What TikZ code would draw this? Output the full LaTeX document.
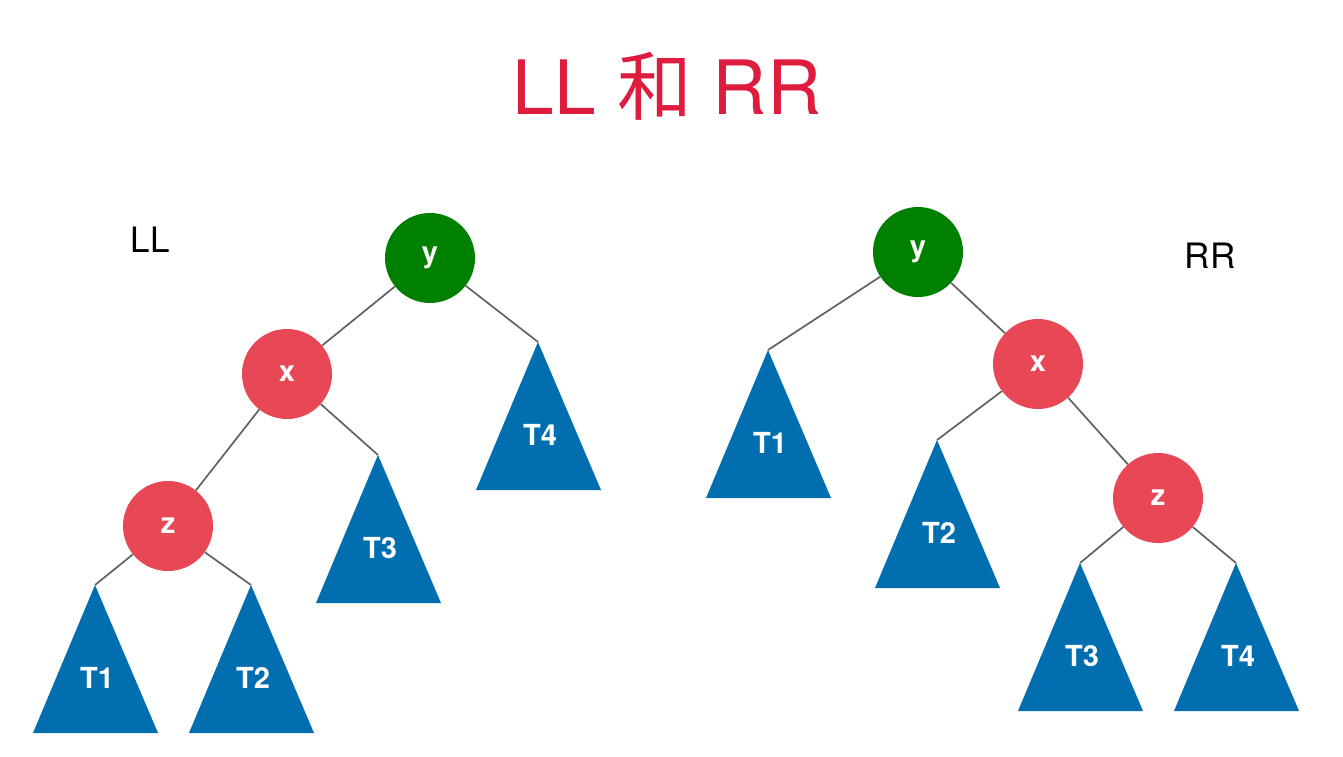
\documentclass[tikz,border=0pt]{standalone}
\usepackage{fontspec}
\setmainfont{TeX Gyre Heros}
\newfontfamily\cjkfont{Noto Sans CJK SC}
\usetikzlibrary{positioning}
\definecolor{titlered}{RGB}{222,28,62}
\definecolor{nodered}{RGB}{232,72,86}
\definecolor{nodegreen}{RGB}{0,128,0}
\definecolor{treeblue}{RGB}{0,110,175}
\tikzset{
  keynode/.style={circle, minimum size=90pt, inner sep=0pt,
    font=\fontsize{29}{29}\selectfont\bfseries, text=white},
  rednode/.style={keynode, fill=nodered},
  greennode/.style={keynode, fill=nodegreen},
  tri/.style={fill=treeblue},
  trilabel/.style={font=\fontsize{29}{29}\selectfont\bfseries, text=white, inner sep=0pt},
  treeline/.style={draw=black!62, line width=1.7pt},
}
% subtree: name, apex, label
\newcommand\subtree[3]{%
  \fill[tri] (#2) coordinate (#1) -- ++(-62,148) -- ++(125,0) -- cycle;
  \node[trilabel] (#1l) at ([shift={(2,93)}]#1) {#3};
}

\begin{document}
\begin{tikzpicture}[x=1pt, y=-1pt]
  \useasboundingbox[fill=white] (0,0) rectangle (1343,756);
  % ---- title ----
  \node[text=titlered, font=\fontsize{75}{75}\selectfont] (title) at (667,86)
    {LL {\cjkfont 和} RR};
  \node[font=\fontsize{35}{35}\selectfont] (llname) at (150,240) {LL};
  \node[font=\fontsize{35}{35}\selectfont] (rrname) at (1210,256) {RR};

  % ---- LL tree ----
  \subtree{lT4}{538,342}{T4}
  \subtree{lT3}{378,455}{T3}
  \subtree{lT1}{95,585}{T1}
  \subtree{lT2}{251,585}{T2}
  \node[greennode] (ly) at (430,258) {y};
  \node[rednode]   (lx) at (287,374) {x};
  \node[rednode]   (lz) at (168,526) {z};

  % ---- RR tree ----
  \subtree{rT1}{768,350}{T1}
  \subtree{rT2}{937,440}{T2}
  \subtree{rT3}{1080,563}{T3}
  \subtree{rT4}{1236,563}{T4}
  \node[greennode] (ry) at (918,252) {y};
  \node[rednode]   (rx) at (1038,364) {x};
  \node[rednode]   (rz) at (1158,498) {z};

  % ---- edges ----
  \draw[treeline] (ly) -- (lx);
  \draw[treeline] (ly) -- (lT4);
  \draw[treeline] (lx) -- (lz);
  \draw[treeline] (lx) -- (lT3);
  \draw[treeline] (lz) -- (lT1);
  \draw[treeline] (lz) -- (lT2);
  \draw[treeline] (ry) -- (rT1);
  \draw[treeline] (ry) -- (rx);
  \draw[treeline] (rx) -- (rT2);
  \draw[treeline] (rx) -- (rz);
  \draw[treeline] (rz) -- (rT3);
  \draw[treeline] (rz) -- (rT4);
\end{tikzpicture}
\end{document}
